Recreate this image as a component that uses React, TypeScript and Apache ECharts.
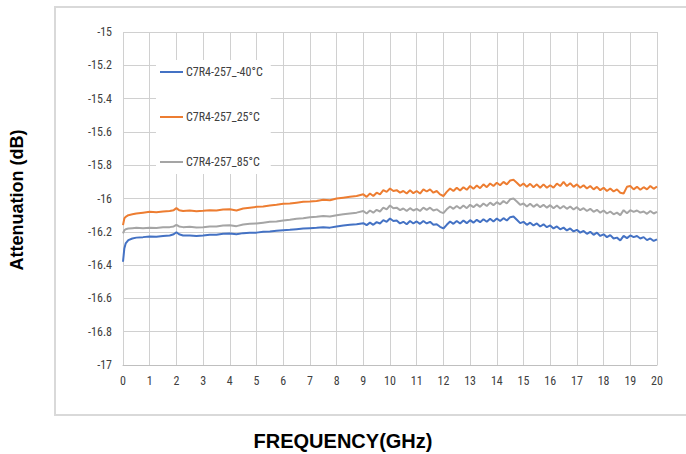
import React, { useEffect, useRef } from "react";
import * as echarts from "echarts";

const seriesNames = ["C7R4-257_-40°C", "C7R4-257_25°C", "C7R4-257_85°C"];
const seriesColors = ["#4472C4", "#ED7D31", "#A5A5A5"];
const xTickLabels = ["0","1","2","3","4","5","6","7","8","9","10","11","12","13","14","15","16","17","18","19","20"];

const freqs = [
  0, 0.05, 0.1, 0.2, 0.35, 0.5, 0.75, 1, 1.25, 1.5, 1.75, 1.9, 2, 2.1, 2.25, 2.5, 2.75, 3, 3.25, 3.5, 3.75,
  4, 4.25, 4.5, 4.75, 5, 5.25, 5.5, 5.75, 6, 6.25, 6.5, 6.75, 7, 7.25, 7.5, 7.75, 8, 8.25, 8.5, 8.75,
  9, 9.125, 9.25, 9.375, 9.5, 9.625, 9.75, 9.875,
  10, 10.125, 10.25, 10.375, 10.5, 10.625, 10.75, 10.875,
  11, 11.125, 11.25, 11.375, 11.5, 11.625, 11.75, 11.875,
  12, 12.125, 12.25, 12.375, 12.5, 12.625, 12.75, 12.875,
  13, 13.125, 13.25, 13.375, 13.5, 13.625, 13.75, 13.875,
  14, 14.125, 14.25, 14.375, 14.5, 14.625, 14.75, 14.875,
  15, 15.125, 15.25, 15.375, 15.5, 15.625, 15.75, 15.875,
  16, 16.125, 16.25, 16.375, 16.5, 16.625, 16.75, 16.875,
  17, 17.125, 17.25, 17.375, 17.5, 17.625, 17.75, 17.875,
  18, 18.125, 18.25, 18.375, 18.5, 18.625, 18.75, 18.875,
  19, 19.125, 19.25, 19.375, 19.5, 19.625, 19.75, 19.875,
  20,
];

const minus40 = [
  -16.38, -16.30, -16.27, -16.25, -16.24, -16.235, -16.232, -16.228, -16.23, -16.225, -16.222, -16.215, -16.203, -16.215, -16.222, -16.222, -16.225, -16.222, -16.218, -16.218, -16.212,
  -16.21, -16.215, -16.208, -16.206, -16.205, -16.2, -16.198, -16.194, -16.19, -16.188, -16.184, -16.18, -16.178, -16.176, -16.172, -16.175, -16.168, -16.162, -16.158, -16.155,
  -16.148, -16.160, -16.145, -16.158, -16.142, -16.150, -16.130, -16.140,
  -16.120, -16.135, -16.132, -16.150, -16.140, -16.155, -16.135, -16.150,
  -16.138, -16.152, -16.135, -16.150, -16.140, -16.158, -16.155, -16.170,
  -16.180, -16.158, -16.138, -16.152, -16.135, -16.150, -16.132, -16.148,
  -16.130, -16.145, -16.128, -16.142, -16.125, -16.140, -16.122, -16.138,
  -16.120, -16.135, -16.118, -16.132, -16.112, -16.108, -16.128, -16.148,
  -16.140, -16.158, -16.145, -16.162, -16.150, -16.168, -16.155, -16.172,
  -16.162, -16.180, -16.168, -16.185, -16.175, -16.192, -16.180, -16.198,
  -16.188, -16.205, -16.195, -16.212, -16.200, -16.218, -16.205, -16.225,
  -16.215, -16.232, -16.220, -16.240, -16.235, -16.252, -16.225, -16.238,
  -16.222, -16.232, -16.225, -16.240, -16.232, -16.250, -16.240, -16.255,
  -16.245,
];

const plus25 = [
  -16.16, -16.12, -16.11, -16.10, -16.095, -16.09, -16.085, -16.08, -16.082, -16.078, -16.075, -16.07, -16.058, -16.07, -16.075, -16.072, -16.076, -16.074, -16.07, -16.072, -16.066,
  -16.065, -16.072, -16.06, -16.055, -16.05, -16.048, -16.042, -16.038, -16.032, -16.03, -16.025, -16.02, -16.018, -16.015, -16.008, -16.01, -16.0, -15.995, -15.99, -15.985,
  -15.975, -15.990, -15.970, -15.985, -15.965, -15.975, -15.950, -15.960,
  -15.940, -15.955, -15.950, -15.965, -15.955, -15.970, -15.950, -15.968,
  -15.955, -15.970, -15.945, -15.958, -15.945, -15.965, -15.955, -15.975,
  -15.985, -15.960, -15.940, -15.955, -15.935, -15.952, -15.932, -15.948,
  -15.925, -15.942, -15.922, -15.938, -15.915, -15.932, -15.910, -15.925,
  -15.905, -15.920, -15.900, -15.915, -15.892, -15.888, -15.905, -15.925,
  -15.910, -15.930, -15.912, -15.932, -15.915, -15.935, -15.915, -15.935,
  -15.920, -15.935, -15.910, -15.925, -15.900, -15.925, -15.908, -15.930,
  -15.915, -15.935, -15.920, -15.940, -15.925, -15.945, -15.930, -15.950,
  -15.935, -15.955, -15.940, -15.958, -15.945, -15.965, -15.970, -15.930,
  -15.925, -15.945, -15.930, -15.948, -15.932, -15.945, -15.925, -15.942,
  -15.928,
];

const plus85 = [
  -16.21, -16.19, -16.185, -16.18, -16.178, -16.176, -16.178, -16.175, -16.177, -16.173, -16.172, -16.168, -16.158, -16.168, -16.172, -16.17, -16.174, -16.172, -16.168, -16.168, -16.162,
  -16.16, -16.166, -16.156, -16.152, -16.15, -16.145, -16.14, -16.138, -16.132, -16.128, -16.122, -16.118, -16.112, -16.11, -16.105, -16.108, -16.1, -16.095, -16.09, -16.085,
  -16.075, -16.090, -16.072, -16.085, -16.068, -16.078, -16.055, -16.065,
  -16.042, -16.058, -16.055, -16.070, -16.060, -16.075, -16.058, -16.072,
  -16.062, -16.075, -16.055, -16.068, -16.055, -16.072, -16.065, -16.080,
  -16.088, -16.065, -16.048, -16.062, -16.045, -16.060, -16.042, -16.058,
  -16.038, -16.052, -16.035, -16.050, -16.030, -16.045, -16.025, -16.040,
  -16.022, -16.035, -16.015, -16.030, -16.005, -16.000, -16.018, -16.038,
  -16.030, -16.048, -16.032, -16.050, -16.035, -16.052, -16.038, -16.055,
  -16.040, -16.058, -16.042, -16.060, -16.045, -16.062, -16.048, -16.066,
  -16.052, -16.070, -16.058, -16.075, -16.062, -16.080, -16.068, -16.085,
  -16.072, -16.090, -16.078, -16.095, -16.085, -16.100, -16.070, -16.088,
  -16.070, -16.080, -16.072, -16.085, -16.078, -16.092, -16.075, -16.090,
  -16.080,
];

const seriesValues = [minus40, plus25, plus85];

const labelFont = "'Liberation Sans Narrow', 'Roboto Condensed', 'Liberation Sans', Arial, sans-serif";

export default function App() {
  const ref = useRef<HTMLDivElement>(null);

  useEffect(() => {
    if (!ref.current) return;
    const chart = echarts.init(ref.current, undefined, { renderer: "svg" });
    chart.setOption({
      animation: false,
      backgroundColor: "#ffffff",
      grid: { left: 123, right: 29, top: 32, bottom: 89, containLabel: false },
      xAxis: {
        type: "value",
        min: 0,
        max: 20,
        interval: 1,
        axisLine: { show: true, lineStyle: { color: "#bfbfbf", width: 1 } },
        axisTick: { show: false },
        axisLabel: {
          margin: 10,
          color: "#404040",
          fontSize: 12,
          fontFamily: labelFont,
          formatter: (v: number) => xTickLabels[Math.round(v)] ?? String(v),
        },
        splitLine: { show: true, lineStyle: { color: "#d0d0d0", width: 1 } },
      },
      yAxis: {
        type: "value",
        min: -17,
        max: -15,
        interval: 0.2,
        axisLine: { show: false },
        axisTick: { show: false },
        axisLabel: {
          margin: 11,
          color: "#404040",
          fontSize: 12,
          fontFamily: labelFont,
          formatter: (v: number) => String(Math.round(v * 10) / 10),
        },
        splitLine: { show: true, lineStyle: { color: "#d0d0d0", width: 1 } },
      },
      legend: {
        show: true,
        orient: "vertical",
        left: 156,
        top: 60,
        padding: [6, 8, 6, 4],
        itemGap: 33,
        itemWidth: 23,
        itemHeight: 2,
        icon: "rect",
        backgroundColor: "#ffffff",
        textStyle: { color: "#404040", fontSize: 12, fontFamily: labelFont, padding: [0, 0, 0, -2] },
        data: seriesNames,
      },
      graphic: [
        {
          type: "rect",
          shape: { x: 55, y: 7, width: 720, height: 408 },
          style: { fill: "none", stroke: "#d9d9d9", lineWidth: 2 },
          z: -1,
          silent: true,
        },
        {
          type: "text",
          x: 17,
          y: 200,
          rotation: Math.PI / 2,
          style: {
            text: "Attenuation (dB)",
            fontSize: 18,
            fontWeight: "bold",
            fontFamily: "'Liberation Sans', Arial, sans-serif",
            fill: "#000000",
            textAlign: "center",
            textVerticalAlign: "middle",
          },
        },
        {
          type: "text",
          x: 343,
          y: 441,
          style: {
            text: "FREQUENCY(GHz)",
            fontSize: 20,
            fontWeight: "bold",
            fontFamily: "'Liberation Sans', Arial, sans-serif",
            fill: "#000000",
            textAlign: "center",
            textVerticalAlign: "middle",
          },
        },
      ],
      series: seriesNames.map((name, i) => ({
        name,
        type: "line",
        showSymbol: false,
        symbol: "none",
        color: seriesColors[i],
        lineStyle: { color: seriesColors[i], width: 2 },
        data: freqs.map((f, j) => [f, seriesValues[i][j]]),
      })),
    });
    return () => chart.dispose();
  }, []);

  return (
    <div
      ref={ref}
      style={{ position: "fixed", left: 0, top: 0, width: 686, height: 454, background: "#fff" }}
    />
  );
}
